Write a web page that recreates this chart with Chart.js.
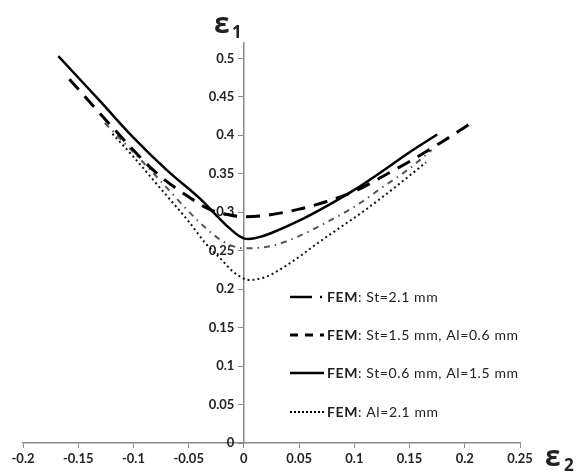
<!DOCTYPE html>
<html>
<head>
<meta charset="utf-8">
<script src="https://cdn.jsdelivr.net/npm/chart.js@4/dist/chart.umd.min.js"></script>
<style>
  html, body { margin: 0; padding: 0; background: #fff; }
  #wrap { width: 581px; height: 472px; position: relative; }
</style>
</head>
<body>
<div id="wrap"><canvas id="chart"></canvas></div>
<script>
// values: x = eps2, y = eps1
const seriesLabels = [
  "FEM: St=2.1 mm",
  "FEM: St=1.5 mm, Al=0.6 mm",
  "FEM: St=0.6 mm, Al=1.5 mm",
  "FEM: Al=2.1 mm"
];

const xSt21 = [-0.126, -0.10, -0.075, -0.05, -0.035, -0.02, -0.01, 0, 0.015, 0.03, 0.05, 0.075, 0.1, 0.125, 0.15, 0.17];
const ySt21 = [0.416, 0.378, 0.340, 0.301, 0.280, 0.263, 0.256, 0.253, 0.254, 0.258, 0.269, 0.287, 0.307, 0.332, 0.357, 0.381];

const xSt15 = [-0.158, -0.12, -0.08, -0.05, -0.03, -0.015, 0, 0.02, 0.05, 0.075, 0.1, 0.13, 0.15, 0.18, 0.21];
const ySt15 = [0.473, 0.412, 0.352, 0.320, 0.303, 0.297, 0.294, 0.296, 0.304, 0.314, 0.327, 0.350, 0.366, 0.392, 0.420];

const xSt06 = [-0.168, -0.13, -0.10, -0.07, -0.04, -0.025, -0.012, 0, 0.012, 0.025, 0.05, 0.075, 0.1, 0.125, 0.15, 0.175];
const ySt06 = [0.503, 0.444, 0.397, 0.355, 0.318, 0.296, 0.278, 0.266, 0.267, 0.273, 0.289, 0.308, 0.329, 0.353, 0.378, 0.401];

const xAl21 = [-0.119, -0.10, -0.075, -0.05, -0.035, -0.02, -0.01, 0.005, 0.02, 0.045, 0.065, 0.085, 0.11, 0.14, 0.165];
const yAl21 = [0.402, 0.372, 0.330, 0.288, 0.260, 0.238, 0.223, 0.212, 0.216, 0.237, 0.258, 0.278, 0.303, 0.336, 0.365];

const xTicks = [-0.2, -0.15, -0.1, -0.05, 0, 0.05, 0.1, 0.15, 0.2, 0.25];
const yTicks = [0, 0.05, 0.1, 0.15, 0.2, 0.25, 0.3, 0.35, 0.4, 0.45, 0.5];

function pts(xs, ys) {
  return xs.map((x, i) => ({ x: x, y: ys[i] }));
}

// legend sample styles, in the order of seriesLabels
const legendDash = [[22, 8, 2, 100], [8, 7], [], [2, 2]];
const legendWidth = [2.5, 3, 2.5, 2];

const legendPlugin = {
  id: "insideLegend",
  afterDraw(chart) {
    const ctx = chart.ctx;
    ctx.save();
    // axis symbols
    ctx.fillStyle = "#222";
    ctx.textBaseline = "alphabetic";
    ctx.font = "bold 28px 'Open Sans'";
    ctx.fillText("ε", 214, 33);
    ctx.font = "bold 17px 'Open Sans'";
    ctx.fillText("1", 232, 38);
    ctx.font = "bold 28px 'Open Sans'";
    ctx.fillText("ε", 545, 466);
    ctx.font = "bold 17px 'Open Sans'";
    ctx.fillText("2", 564, 471);

    // legend
    const x0 = 290, sampleEnd = 324, textX = 327;
    const ys = [297, 335, 373, 412];
    ctx.letterSpacing = "0.6px";
    seriesLabels.forEach((lab, i) => {
      const y = ys[i];
      ctx.strokeStyle = "#000";
      ctx.lineWidth = legendWidth[i];
      ctx.setLineDash(legendDash[i]);
      ctx.beginPath();
      ctx.moveTo(x0, y);
      ctx.lineTo(sampleEnd, y);
      ctx.stroke();
      ctx.setLineDash([]);
      const parts = lab.split(":");
      ctx.fillStyle = "#222";
      ctx.textBaseline = "middle";
      ctx.font = "bold 14px Lato";
      ctx.fillText(parts[0], textX, y);
      const w = ctx.measureText(parts[0]).width;
      ctx.font = "14px Lato";
      ctx.fillText(":" + parts[1], textX + w, y);
    });
    ctx.restore();
  }
};

const ctx = document.getElementById("chart").getContext("2d");

const myChart = new Chart(ctx, {
  type: "line",
  data: {
    datasets: [
      {
        label: seriesLabels[0],
        data: pts(xSt21, ySt21),
        borderColor: "#555",
        borderWidth: 2,
        borderDash: [6, 5, 1.5, 5],
        pointRadius: 0,
        cubicInterpolationMode: "monotone",
        order: 4,
      },
      {
        label: seriesLabels[1],
        data: pts(xSt15, ySt15),
        borderColor: "#000",
        borderWidth: 3,
        borderDash: [14, 9],
        pointRadius: 0,
        cubicInterpolationMode: "monotone",
        order: 2,
      },
      {
        label: seriesLabels[2],
        data: pts(xSt06, ySt06),
        borderColor: "#000",
        borderWidth: 2.5,
        pointRadius: 0,
        tension: 0.4,
        order: 1,
      },
      {
        label: seriesLabels[3],
        data: pts(xAl21, yAl21),
        borderColor: "#111",
        borderWidth: 2,
        borderDash: [2, 3],
        pointRadius: 0,
        cubicInterpolationMode: "monotone",
        order: 3,
      },
    ],
  },
  options: {
    responsive: true,
    maintainAspectRatio: false,
    animation: false,
    layout: { padding: { left: 23, right: 61, top: 43, bottom: 0 } },
    plugins: {
      legend: { display: false },
      tooltip: { enabled: false },
    },
    scales: {
      x: {
        type: "linear",
        position: "bottom",
        min: -0.2,
        max: 0.25,
        afterBuildTicks: (s) => { s.ticks = xTicks.map((v) => ({ value: v })); },
        afterFit: (s) => { s.height = 29; },
        border: { color: "#8a8a8a", width: 1.5 },
        grid: { drawOnChartArea: false, tickLength: 5, color: "#8a8a8a" },
        ticks: {
          color: "#222",
          font: { family: "Lato", size: 13, weight: "bold" },
          padding: 3,
          maxRotation: 0,
          callback: (v) => String(v),
        },
      },
      y: {
        type: "linear",
        position: { x: 0 },
        min: 0,
        max: 0.52,
        afterBuildTicks: (s) => { s.ticks = yTicks.map((v) => ({ value: v })); },
        border: { color: "#8a8a8a", width: 1.5 },
        grid: { drawOnChartArea: false, tickLength: 5, color: "#8a8a8a" },
        ticks: {
          color: "#222",
          font: { family: "Lato", size: 13, weight: "bold" },
          // labels of an axis set at x = 0 sit on the line, so pad them with spaces
          callback: (v) => String(v) + "   ",
        },
      },
    },
  },
  plugins: [legendPlugin],
});
</script>
</body>
</html>
